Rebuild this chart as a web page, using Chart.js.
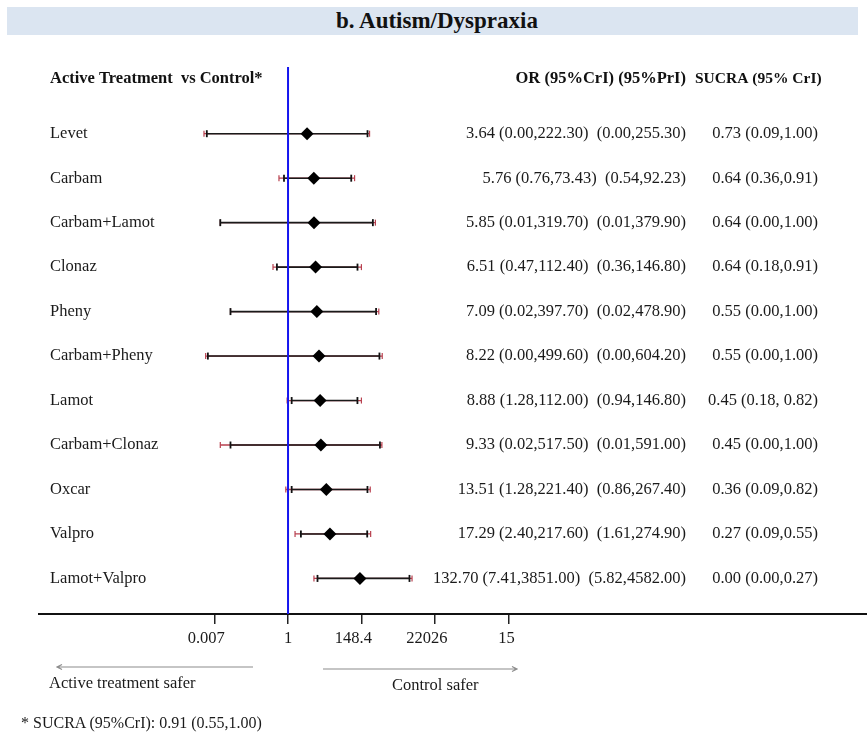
<!DOCTYPE html>
<html>
<head>
<meta charset="utf-8">
<script src="https://cdn.jsdelivr.net/npm/chart.js@4.4.1/dist/chart.umd.min.js"></script>
<style>
  body { margin: 0; background: #fff; }
  #wrap { position: relative; width: 867px; height: 734px; }
  #myChart { position: absolute; left: 0; top: 0; }
  #bar { position: absolute; left: 7px; top: 7px; width: 851px; height: 28px; background: #dbe5f1; }
  #title { position: absolute; left: 0; top: 8px; width: 874px; height: 28px; line-height: 28px; text-align: center;
    font: bold 23px "Liberation Serif", serif; color: #111; }
  #footnote { position: absolute; left: 21px; top: 714px; font: 16px "Liberation Serif", serif; color: #1a1a1a; }
</style>
</head>
<body>
<div id="wrap">
  <div id="bar"></div>
  <div id="title">b. Autism/Dyspraxia</div>
  <canvas id="myChart" width="867" height="734"></canvas>
  <div id="footnote">* SUCRA (95%CrI): 0.91 (0.55,1.00)</div>
</div>
<script>
// 治療ごとのデータ（上から順）
const treatments = ['Levet', 'Carbam', 'Carbam+Lamot', 'Clonaz', 'Pheny', 'Carbam+Pheny',
  'Lamot', 'Carbam+Clonaz', 'Oxcar', 'Valpro', 'Lamot+Valpro'];
const oddsRatio = [3.64, 5.76, 5.85, 6.51, 7.09, 8.22, 8.88, 9.33, 13.51, 17.29, 132.70];
// 0.00 の下限は図から読んだ値
const criLow = [0.004, 0.76, 0.01, 0.47, 0.02, 0.0043, 1.28, 0.02, 1.28, 2.40, 7.41];
const criHigh = [222.30, 73.43, 319.70, 112.40, 397.70, 499.60, 112.00, 517.50, 221.40, 217.60, 3851.00];
const priLow = [0.0033, 0.54, 0.01, 0.36, 0.02, 0.0037, 0.94, 0.01, 0.86, 1.61, 5.82];
const priHigh = [255.30, 92.23, 379.90, 146.80, 478.90, 604.20, 146.80, 591.00, 267.40, 274.90, 4582.00];

const orText = [
  '3.64 (0.00,222.30)  (0.00,255.30)',
  '5.76 (0.76,73.43)  (0.54,92.23)',
  '5.85 (0.01,319.70)  (0.01,379.90)',
  '6.51 (0.47,112.40)  (0.36,146.80)',
  '7.09 (0.02,397.70)  (0.02,478.90)',
  '8.22 (0.00,499.60)  (0.00,604.20)',
  '8.88 (1.28,112.00)  (0.94,146.80)',
  '9.33 (0.02,517.50)  (0.01,591.00)',
  '13.51 (1.28,221.40)  (0.86,267.40)',
  '17.29 (2.40,217.60)  (1.61,274.90)',
  '132.70 (7.41,3851.00)  (5.82,4582.00)'
];
const sucraText = ['0.73 (0.09,1.00)', '0.64 (0.36,0.91)', '0.64 (0.00,1.00)', '0.64 (0.18,0.91)',
  '0.55 (0.00,1.00)', '0.55 (0.00,1.00)', '0.45 (0.18, 0.82)', '0.45 (0.00,1.00)',
  '0.36 (0.09,0.82)', '0.27 (0.09,0.55)', '0.00 (0.00,0.27)'];

// x軸（ln スケール）
const tickValues = [-5, 0, 5, 10, 15];
const tickLabels = ['0.007', '1', '148.4', '22026', '15'];

const X_MIN = -16.93, X_MAX = 39.36;
const Y_MIN = -1.5, Y_MAX = 10.8;
const FONT = '"Liberation Serif"';

function segments(lo, hi) {
  const pts = [];
  for (let i = 0; i < lo.length; i++) {
    pts.push({ x: Math.log(lo[i]), y: i });
    pts.push({ x: Math.log(hi[i]), y: i });
    pts.push({ x: Math.log(hi[i]), y: null });
  }
  return pts;
}
function caps(lo, hi) {
  const pts = [];
  for (let i = 0; i < lo.length; i++) {
    pts.push({ x: Math.log(lo[i]), y: i });
    pts.push({ x: Math.log(hi[i]), y: i });
  }
  return pts;
}

const textPlugin = {
  id: 'forestText',
  afterDraw(chart) {
    const ctx = chart.ctx;
    const ys = chart.scales.y;
    ctx.save();
    ctx.fillStyle = '#111';
    ctx.textBaseline = 'middle';
    ctx.font = 'bold 16.5px ' + FONT;
    ctx.textAlign = 'left';
    ctx.fillText('Active Treatment  vs Control*', 50, 79);
    ctx.textAlign = 'right';
    ctx.fillText('OR (95%CrI) (95%PrI)', 686, 79);
    ctx.font = 'bold 15.5px ' + FONT;
    ctx.textAlign = 'left';
    ctx.fillText('SUCRA (95% CrI)', 695, 79);

    ctx.font = '16.5px ' + FONT;
    ctx.fillStyle = '#1a1a1a';
    treatments.forEach((t, i) => {
      const py = ys.getPixelForValue(i);
      ctx.textAlign = 'left';
      ctx.fillText(t, 50, py);
      ctx.textAlign = 'right';
      ctx.fillText(orText[i], 686, py);
      ctx.fillText(sucraText[i], 818, py);
    });

    // 矢印
    ctx.strokeStyle = '#8c8c8c';
    ctx.lineWidth = 1.2;
    ctx.beginPath();
    ctx.moveTo(253, 667); ctx.lineTo(57, 667);
    ctx.moveTo(62, 664.5); ctx.lineTo(57, 667); ctx.lineTo(62, 669.5);
    ctx.moveTo(323, 669); ctx.lineTo(517, 669);
    ctx.moveTo(512, 666.5); ctx.lineTo(517, 669); ctx.lineTo(512, 671.5);
    ctx.stroke();
    ctx.textAlign = 'left';
    ctx.fillText('Active treatment safer', 49, 684);
    ctx.fillText('Control safer', 392, 686);
    ctx.restore();
  }
};

const config = {
  type: 'scatter',
  data: {
    datasets: [
      {
        label: 'PrI',
        data: segments(priLow, priHigh),
        showLine: true,
        borderColor: '#b8404f',
        borderWidth: 1.3,
        pointRadius: 0,
        order: 4,
      },
      {
        label: 'PrI caps',
        data: caps(priLow, priHigh),
        pointStyle: 'line',
        rotation: 90,
        pointRadius: 3,
        borderColor: '#b8404f',
        borderWidth: 1.2,
        order: 3,
      },
      {
        label: 'CrI',
        data: segments(criLow, criHigh),
        showLine: true,
        borderColor: '#1a1a1a',
        borderWidth: 1.6,
        pointRadius: 0,
        order: 2,
      },
      {
        label: 'CrI caps',
        data: caps(criLow, criHigh),
        pointStyle: 'line',
        rotation: 90,
        pointRadius: 3.5,
        borderColor: '#111',
        borderWidth: 1.8,
        order: 2,
      },
      {
        label: 'null line',
        data: [{ x: 0, y: Y_MIN }, { x: 0, y: Y_MAX }],
        showLine: true,
        borderColor: '#1515ee',
        borderWidth: 2,
        pointRadius: 0,
        order: 1,
      },
      {
        label: 'OR',
        data: oddsRatio.map((v, i) => ({ x: Math.log(v), y: i })),
        pointStyle: 'rectRot',
        pointRadius: 6.5,
        backgroundColor: '#000',
        borderColor: '#000',
        borderWidth: 0,
        order: 0,
      },
    ],
  },
  options: {
    responsive: false,
    animation: false,
    layout: { autoPadding: false, padding: { left: 39, top: 67, right: 0, bottom: 80 } },
    plugins: { legend: { display: false }, tooltip: { enabled: false } },
    scales: {
      x: {
        type: 'linear',
        min: X_MIN,
        max: X_MAX,
        afterBuildTicks: (scale) => {
          scale.ticks = tickValues.map((v) => ({ value: v }));
        },
        afterFit: (scale) => {
          scale.height = 40;
          scale.paddingLeft = 0;
          scale.paddingRight = 0;
        },
        border: { display: true, color: '#111', width: 2 },
        grid: { drawOnChartArea: false, drawTicks: true, tickLength: 10, color: '#222', lineWidth: 1.5 },
        ticks: {
          autoSkip: false,
          maxRotation: 0,
          padding: 5,
          color: '#1a1a1a',
          font: { family: 'Liberation Serif', size: 16.5 },
          // 元図のラベルは左寄りに置かれている
          callback: (v) => {
            const s = tickLabels[tickValues.indexOf(v)];
            return s + ' '.repeat(s.length - 1);
          },
        },
      },
      y: {
        type: 'linear',
        display: false,
        reverse: true,
        min: Y_MIN,
        max: Y_MAX,
      },
    },
  },
  plugins: [textPlugin],
};

const myChart = new Chart(document.getElementById('myChart'), config);
</script>
</body>
</html>
